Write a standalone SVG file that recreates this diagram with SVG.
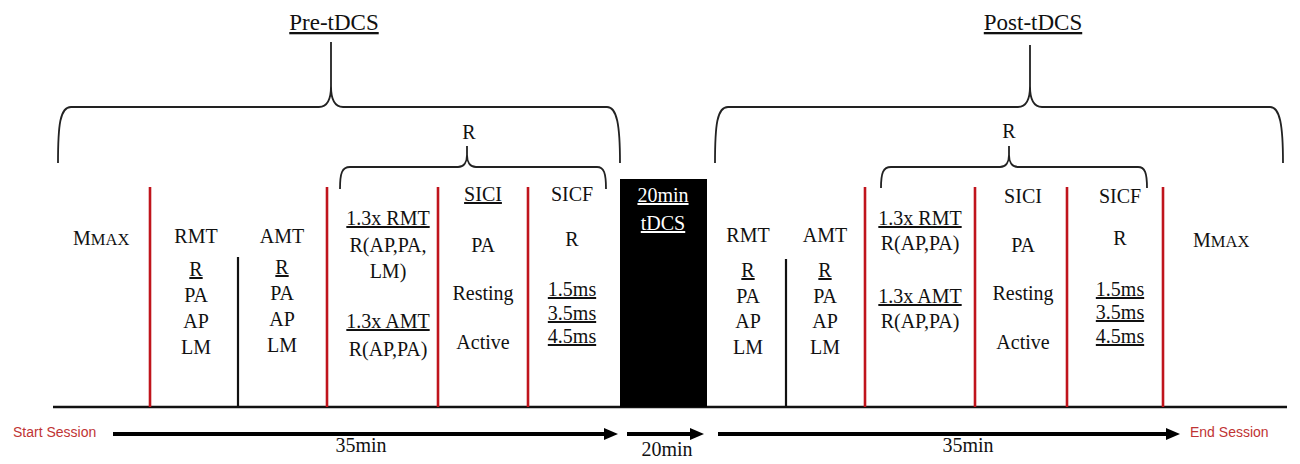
<svg xmlns="http://www.w3.org/2000/svg" width="1300" height="464" viewBox="0 0 1300 464">
<defs>
<style>
text{font-family:'Liberation Serif','DejaVu Serif','Times New Roman',serif;font-size:20px;fill:#111;text-anchor:middle}
.u{text-decoration:underline}
.title{font-size:23px}
.sm{font-size:16.5px}
.w{fill:#fff}
.sess{font-family:'Liberation Sans','Open Sans',Arial,sans-serif;font-size:14px;fill:#bf3434;text-anchor:start}
.red{stroke:#c0141c;stroke-width:2.6}
.blk{stroke:#111;stroke-width:2.2}
.brace{fill:none;stroke:#222;stroke-width:1.8}
.arr{stroke:#000;stroke-width:4;marker-end:url(#ah)}
</style>
<marker id="ah" viewBox="0 0 14 12" refX="2" refY="6" markerWidth="14" markerHeight="12" markerUnits="userSpaceOnUse" orient="auto">
<path d="M0,0 L14,6 L0,12 z" fill="#000"/>
</marker>
</defs>
<rect width="1300" height="464" fill="#fff"/>

<g id="pre-brace">
<text class="title u" x="334" y="30">Pre-tDCS</text>
<path class="brace" d="M58,163 C58,125 60,107 71,107 L319,107 C327,107 331,100 331,86 L331,42 M331,86 C331,100 335,107 343,107 L607,107 C617,107 620,125 620,163"/>
<text x="469" y="139">R</text>
<path class="brace" d="M340,189 C340,173 342,167 350,167 L458,167 C464,167 467,162 467,155 L467,146 M467,155 C467,162 470,167 476,167 L597,167 C604,167 606,173 606,189"/>
</g>

<g id="post-brace">
<text class="title u" x="1033" y="30">Post-tDCS</text>
<path class="brace" d="M715,163 C715,125 717,107 728,107 L1018,107 C1026,107 1030,100 1030,86 L1030,45 M1030,86 C1030,100 1034,107 1042,107 L1270,107 C1280,107 1283,125 1283,163"/>
<text x="1009" y="138">R</text>
<path class="brace" d="M881,188 C881,173 883,167 891,167 L1000,167 C1006,167 1009,162 1009,155 L1009,146 M1009,155 C1009,162 1012,167 1018,167 L1138,167 C1145,167 1147,173 1147,188"/>
</g>

<g id="separators">
<line class="blk" x1="53" y1="407" x2="1287" y2="407" style="stroke-width:2.6"/>
<line class="red" x1="150" y1="187" x2="150" y2="407"/>
<line class="red" x1="327" y1="187" x2="327" y2="407"/>
<line class="red" x1="438" y1="187" x2="438" y2="407"/>
<line class="red" x1="528" y1="187" x2="528" y2="407"/>
<line class="red" x1="865" y1="187" x2="865" y2="407"/>
<line class="red" x1="975" y1="187" x2="975" y2="407"/>
<line class="red" x1="1067" y1="187" x2="1067" y2="407"/>
<line class="red" x1="1163" y1="187" x2="1163" y2="407"/>
<line class="blk" x1="238" y1="257" x2="238" y2="407"/>
<line class="blk" x1="786" y1="259" x2="786" y2="407"/>
</g>

<g id="pre-mmax">
<text x="73" y="245" style="text-anchor:start">M<tspan class="sm">MAX</tspan></text>
</g>
<g id="pre-rmt">
<text x="196" y="243">RMT</text>
<text class="u" x="196" y="276">R</text>
<text x="196" y="302">PA</text>
<text x="196" y="328">AP</text>
<text x="196" y="354">LM</text>
</g>
<g id="pre-amt">
<text x="282" y="243">AMT</text>
<text class="u" x="282" y="274">R</text>
<text x="282" y="300">PA</text>
<text x="282" y="326">AP</text>
<text x="282" y="352">LM</text>
</g>
<g id="pre-13x">
<text class="u" x="388" y="225">1.3x RMT</text>
<text x="388" y="252">R(AP,PA,</text>
<text x="388" y="278">LM)</text>
<text class="u" x="388" y="328">1.3x AMT</text>
<text x="388" y="356">R(AP,PA)</text>
</g>
<g id="pre-sici">
<text class="u" x="483" y="201">SICI</text>
<text x="483" y="252">PA</text>
<text x="483" y="300">Resting</text>
<text x="483" y="349">Active</text>
</g>
<g id="pre-sicf">
<text x="572" y="201">SICF</text>
<text x="572" y="246">R</text>
<text class="u" x="572" y="296">1.5ms</text>
<text class="u" x="572" y="320">3.5ms</text>
<text class="u" x="572" y="343">4.5ms</text>
</g>
<g id="tdcs">
<rect x="620" y="179" width="87" height="228" fill="#000"/>
<text class="u w" x="663" y="202">20min</text>
<text class="u w" x="663" y="230">tDCS</text>
</g>
<g id="post-rmt">
<text x="748" y="242">RMT</text>
<text class="u" x="748" y="277">R</text>
<text x="748" y="303">PA</text>
<text x="748" y="328">AP</text>
<text x="748" y="354">LM</text>
</g>
<g id="post-amt">
<text x="825" y="242">AMT</text>
<text class="u" x="825" y="277">R</text>
<text x="825" y="303">PA</text>
<text x="825" y="328">AP</text>
<text x="825" y="354">LM</text>
</g>
<g id="post-13x">
<text class="u" x="920" y="225">1.3x RMT</text>
<text x="920" y="250">R(AP,PA)</text>
<text class="u" x="920" y="303">1.3x AMT</text>
<text x="920" y="328">R(AP,PA)</text>
</g>
<g id="post-sici">
<text x="1023" y="203">SICI</text>
<text x="1023" y="252">PA</text>
<text x="1023" y="300">Resting</text>
<text x="1023" y="349">Active</text>
</g>
<g id="post-sicf">
<text x="1120" y="203">SICF</text>
<text x="1120" y="245">R</text>
<text class="u" x="1120" y="296">1.5ms</text>
<text class="u" x="1120" y="319">3.5ms</text>
<text class="u" x="1120" y="343">4.5ms</text>
</g>
<g id="post-mmax">
<text x="1193" y="247" style="text-anchor:start">M<tspan class="sm">MAX</tspan></text>
</g>

<g id="start-session"><text class="sess" x="13" y="437">Start Session</text></g>
<g id="end-session"><text class="sess" x="1190" y="437">End Session</text></g>

<g id="connectors">
<line class="arr" x1="113" y1="434" x2="606" y2="434"/>
<line class="arr" x1="627" y1="434" x2="692" y2="434"/>
<line class="arr" x1="718" y1="434" x2="1168" y2="434"/>
</g>
<g id="durations">
<text x="361" y="452">35min</text>
<text x="667" y="456">20min</text>
<text x="968" y="452">35min</text>
</g>
</svg>
